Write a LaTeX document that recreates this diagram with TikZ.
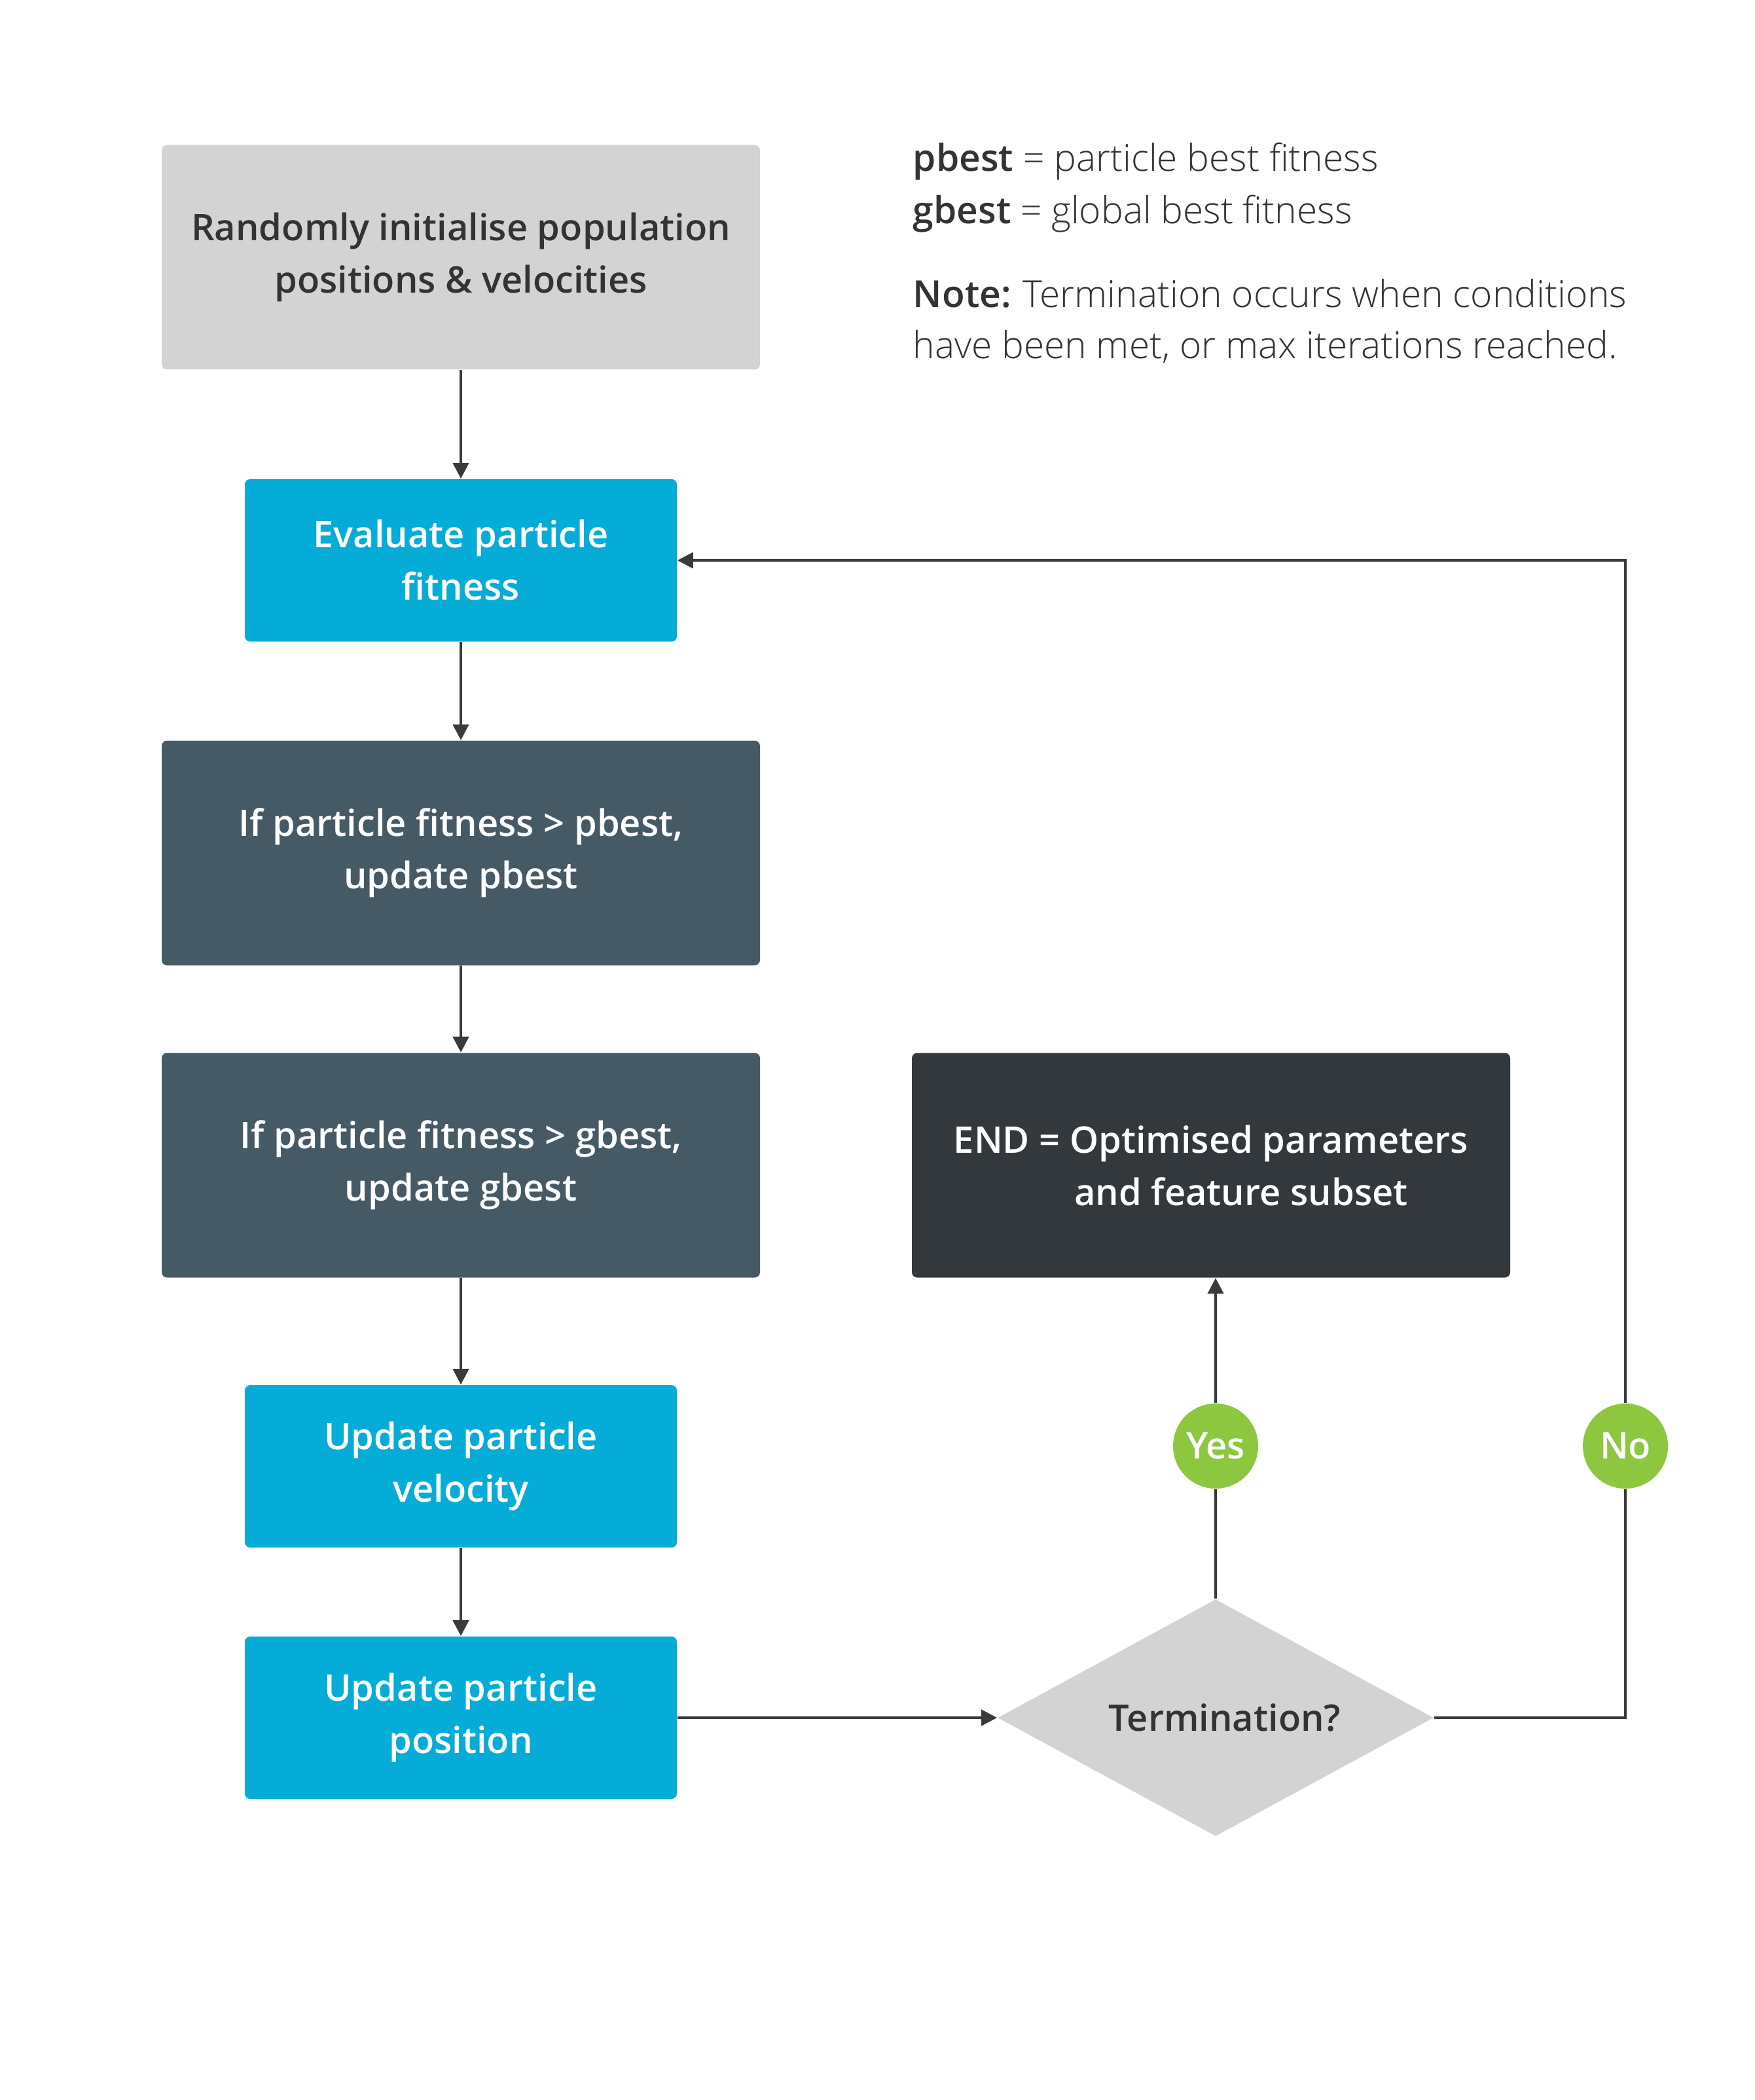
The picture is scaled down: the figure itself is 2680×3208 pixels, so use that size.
\documentclass[tikz,border=0pt]{standalone}
\usepackage{fontspec}
\setmainfont{Open Sans}
\IfFontExistsTF{Open Sans SemiBold}{\newfontfamily\fsemi{Open Sans SemiBold}}{%
  \IfFontExistsTF{Open Sans Semibold}{\newfontfamily\fsemi{Open Sans Semibold}}{\newcommand\fsemi{\bfseries}}}
\IfFontExistsTF{Open Sans Light}{\newfontfamily\flight{Open Sans Light}}{\newcommand\flight{\mdseries}}
\usetikzlibrary{arrows.meta,shapes.geometric}
\definecolor{boxgray}{HTML}{D3D3D3}
\definecolor{cyanbox}{HTML}{05ACD8}
\definecolor{slatebox}{HTML}{465A65}
\definecolor{endbox}{HTML}{33383D}
\definecolor{greenc}{HTML}{8DC63F}
\definecolor{linec}{HTML}{3A3A3A}
\definecolor{textdark}{HTML}{333333}
\begin{document}
\begin{tikzpicture}[x=0.25pt,y=-0.25pt,
  box/.style={rectangle, rounded corners=2pt, inner sep=0pt, align=center,
    font=\fsemi\fontsize{14}{20}\selectfont},
  widebox/.style={box, minimum width=228.5pt, minimum height=85.75pt},
  narrowbox/.style={box, minimum width=165pt, minimum height=62pt},
  graybox/.style={fill=boxgray, text=textdark},
  cyanfill/.style={fill=cyanbox, text=white},
  slatefill/.style={fill=slatebox, text=white},
  endfill/.style={fill=endbox, text=white},
  decision/.style={diamond, fill=boxgray, text=textdark, inner sep=0pt,
    shape aspect=1.84, minimum width=166.5pt, minimum height=90.5pt,
    font=\fsemi\fontsize{14}{20}\selectfont},
  answer/.style={circle, fill=greenc, text=white, inner sep=0pt,
    minimum size=32.5pt, font=\fsemi\fontsize{14}{20}\selectfont},
  legend/.style={anchor=base west, inner sep=0pt, text=textdark,
    font=\fontsize{14.2}{20}\selectfont},
  conn/.style={draw=linec, line width=1.1pt},
  arr/.style={conn, -{Triangle[length=6pt,width=6pt]}},
]
\useasboundingbox (0,0) rectangle (2680,3208);

\node[widebox, graybox] (init) at (704,393) {Randomly initialise population\\positions \& velocities};
\node[narrowbox, cyanfill] (eval) at (704,856) {Evaluate particle\\fitness};
\node[widebox, slatefill] (pbest) at (704,1303) {If particle fitness > pbest,\\update pbest};
\node[widebox, slatefill] (gbest) at (704,1780) {If particle fitness > gbest,\\update gbest};
\node[narrowbox, cyanfill] (vel) at (704,2240) {Update particle\\velocity};
\node[narrowbox, cyanfill] (pos) at (704,2624) {Update particle\\position};
\node[widebox, endfill] (end) at (1850,1780) {END = Optimised parameters\\\hspace*{23pt}and feature subset};
\node[decision] (term) at (1857,2624) {\hspace*{7pt}Termination?};
\node[answer] (yes) at (1857,2209) {Yes};
\node[answer] (no) at (2483,2209) {No};

\node[legend] (lg1) at (1394,262) {{\fsemi pbest} {\flight = particle best fitness}};
\node[legend] (lg2) at (1394,342) {{\fsemi gbest} {\flight = global best fitness}};
\node[legend] (lg3) at (1394,470) {{\fsemi Note:}\hspace{4.5pt}{\flight Termination occurs when conditions}};
\node[legend] (lg4) at (1394,548) {{\flight have been met, or max iterations reached.}};

\draw[arr] (init) -- (eval);
\draw[arr] (eval) -- (pbest);
\draw[arr] (pbest) -- (gbest);
\draw[arr] (gbest) -- (vel);
\draw[arr] (vel) -- (pos);
\draw[arr] (pos) -- (term);
\draw[conn] (term.north) -- (yes);
\draw[arr] (yes) -- (yes |- end.south);
\draw[conn] (term.east) -| (no);
\draw[arr] (no) |- (eval.east);
\end{tikzpicture}
\end{document}
